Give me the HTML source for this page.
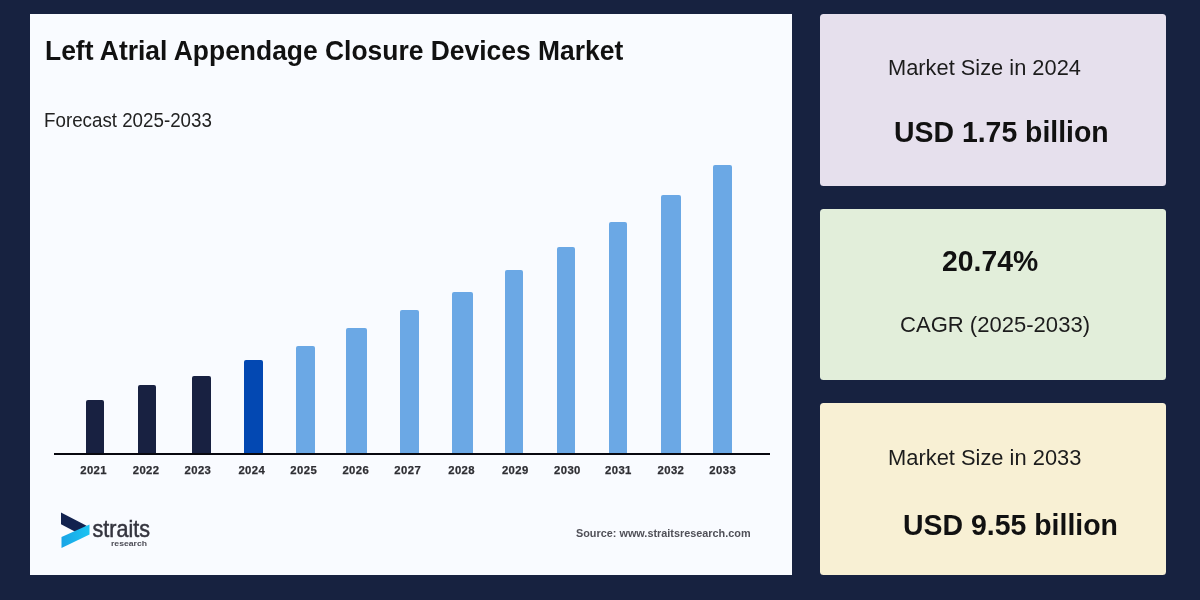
<!DOCTYPE html>
<html lang="en">
<head>
<meta charset="utf-8">
<title>Left Atrial Appendage Closure Devices Market</title>
<style>
html,body{margin:0;padding:0}
body{width:1200px;height:600px;overflow:hidden;background:#172240;font-family:"Liberation Sans",Arial,Helvetica,sans-serif;position:relative;color:#111}
.abs{position:absolute;white-space:nowrap;line-height:1;transform-origin:0 0}
#panel{position:absolute;left:30px;top:14px;width:762px;height:561px;background:#f9fbff}
.card{position:absolute;left:820px;width:346px;border-radius:3.5px}
#c1{top:14px;height:172px;background:#e6e0ed}
#c2{top:209px;height:171px;background:#e2eeda}
#c3{top:403px;height:172px;background:#f8f0d4}
.bar{position:absolute;border-radius:2px 2px 0 0}
#axis{position:absolute;left:53.5px;top:453px;width:716.5px;height:1.9px;background:#08080f}
.yl{position:absolute;top:464.4px;width:60px;text-align:center;font-weight:bold;font-size:11.3px;letter-spacing:0.4px;line-height:12px;color:#2e2e33;text-indent:0.4px;-webkit-text-stroke:0.25px #2e2e33}
#title{font-weight:bold;color:#111}
#sub{color:#222}
.lbl{color:#1c1c1c}
.val{font-weight:bold;color:#111}
#src{font-weight:bold;color:#505058}
#logo{position:absolute;left:55px;top:508px;width:110px;height:46px}
</style>
</head>
<body>
<div id="panel"></div>
<div class="abs" id="title" style="left:44.89px;top:36.41px;font-size:26.30px;transform:scale(1.0052,1.0842)">Left Atrial Appendage Closure Devices Market</div>
<div class="abs" id="sub" style="left:44.22px;top:110.81px;font-size:18.40px;transform:scale(1.0199,1.0596)">Forecast 2025-2033</div>
<div class="bar" style="left:86.2px;width:17.6px;top:399.5px;height:54.5px;background:#182141"></div>
<div class="bar" style="left:138.0px;width:17.8px;top:385.0px;height:69.0px;background:#182141"></div>
<div class="bar" style="left:192.0px;width:19.3px;top:376.2px;height:77.8px;background:#182141"></div>
<div class="bar" style="left:243.8px;width:19.5px;top:360.0px;height:94.0px;background:#0348b2"></div>
<div class="bar" style="left:295.8px;width:19.2px;top:345.8px;height:108.2px;background:#6ba8e5"></div>
<div class="bar" style="left:345.8px;width:21.2px;top:328.0px;height:126.0px;background:#6ba8e5"></div>
<div class="bar" style="left:399.7px;width:19.5px;top:310.0px;height:144.0px;background:#6ba8e5"></div>
<div class="bar" style="left:451.7px;width:21.3px;top:292.0px;height:162.0px;background:#6ba8e5"></div>
<div class="bar" style="left:505.2px;width:17.7px;top:270.3px;height:183.7px;background:#6ba8e5"></div>
<div class="bar" style="left:557.2px;width:17.7px;top:247.1px;height:206.9px;background:#6ba8e5"></div>
<div class="bar" style="left:609.2px;width:17.7px;top:222.2px;height:231.8px;background:#6ba8e5"></div>
<div class="bar" style="left:661.2px;width:19.5px;top:195.1px;height:258.9px;background:#6ba8e5"></div>
<div class="bar" style="left:713.2px;width:19.1px;top:164.7px;height:289.3px;background:#6ba8e5"></div>
<div id="axis"></div>
<div class="yl" style="left:63.4px">2021</div>
<div class="yl" style="left:115.9px">2022</div>
<div class="yl" style="left:167.7px">2023</div>
<div class="yl" style="left:221.6px">2024</div>
<div class="yl" style="left:273.5px">2025</div>
<div class="yl" style="left:325.6px">2026</div>
<div class="yl" style="left:377.5px">2027</div>
<div class="yl" style="left:431.4px">2028</div>
<div class="yl" style="left:485.1px">2029</div>
<div class="yl" style="left:537.2px">2030</div>
<div class="yl" style="left:588.2px">2031</div>
<div class="yl" style="left:640.7px">2032</div>
<div class="yl" style="left:692.5px">2033</div>

<svg id="logo" viewBox="55 508 110 46">
<defs><linearGradient id="lg" x1="0" y1="0" x2="1" y2="0"><stop offset="0" stop-color="#19a4e6"/><stop offset="1" stop-color="#1bc4f2"/></linearGradient></defs>
<polygon points="61,512.5 86.6,525.8 80,532 74.8,531.6 61,524.3" fill="#12224f"/>
<polygon points="89.5,524.5 89.5,534.5 61.5,548 61.5,537" fill="url(#lg)"/>
<text transform="translate(92.5,536.5) scale(1,1.1)" x="0" y="0" font-family="Liberation Sans, sans-serif" font-size="21.5" fill="#34343e" stroke="#34343e" stroke-width="0.45" textLength="57.5" lengthAdjust="spacingAndGlyphs">straits</text>
<text transform="translate(111,545.8) scale(1,0.93)" x="0" y="0" font-family="Liberation Sans, sans-serif" font-size="8.6" font-weight="bold" fill="#4c4c56" textLength="36" lengthAdjust="spacingAndGlyphs">research</text>
</svg>
<div class="abs" id="src" style="left:576.21px;top:528.16px;font-size:10.70px;transform:scale(1.0157,1.0045)">Source: www.straitsresearch.com</div>

<div class="card" id="c1"></div>
<div class="card" id="c2"></div>
<div class="card" id="c3"></div>
<div class="abs lbl" id="l1" style="left:887.92px;top:55.71px;font-size:21.00px;transform:scale(1.0394,1.0786)">Market Size in 2024</div>
<div class="abs val" id="v1" style="left:893.78px;top:117.47px;font-size:28.00px;transform:scale(1.0147,1.0823)">USD 1.75 billion</div>
<div class="abs val" id="v2" style="left:941.75px;top:247.42px;font-size:28.00px;transform:scale(1.0117,1.0515)">20.74%</div>
<div class="abs lbl" id="l2" style="left:899.92px;top:313.08px;font-size:21.00px;transform:scale(1.0502,1.0783)">CAGR (2025-2033)</div>
<div class="abs lbl" id="l3" style="left:887.85px;top:445.77px;font-size:21.00px;transform:scale(1.0420,1.0829)">Market Size in 2033</div>
<div class="abs val" id="v3" style="left:902.79px;top:509.57px;font-size:28.00px;transform:scale(1.0160,1.0820)">USD 9.55 billion</div>
</body>
</html>
